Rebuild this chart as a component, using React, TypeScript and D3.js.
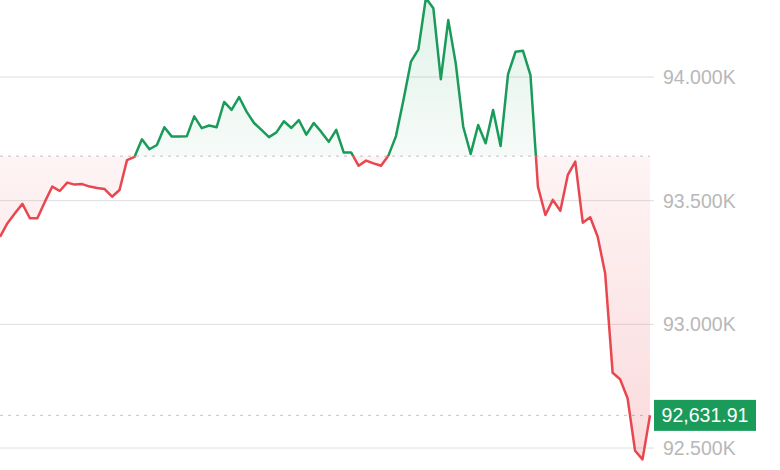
import React from "react";
import * as d3 from "d3";

const prices: number[] = [
  93354, 93409, 93449, 93487, 93429, 93429, 93495, 93557, 93539, 93573,
  93565, 93567, 93557, 93551, 93547, 93516, 93543, 93664, 93677, 93748,
  93708, 93725, 93797, 93759, 93759, 93760, 93841, 93793, 93804, 93797,
  93899, 93867, 93919, 93860, 93814, 93786, 93757, 93776, 93821, 93794,
  93826, 93767, 93814, 93778, 93738, 93786, 93695, 93695, 93641, 93662,
  93651, 93641, 93683, 93761, 93907, 94062, 94112, 94319, 94278, 93991,
  94230, 94055, 93799, 93689, 93806, 93732, 93867, 93721, 94012, 94102,
  94106, 94008, 93557, 93442, 93503, 93459, 93604, 93658, 93411, 93433,
  93354, 93206, 92804, 92778, 92701, 92489, 92454, 92631.91,
];
const baselineValue = 93680;
const currentPrice = 92631.91;
const tickValues: number[] = [94000, 93500, 93000, 92500];
const tickLabels: string[] = ["94.000K", "93.500K", "93.000K", "92.500K"];
const currentLabel = "92,631.91";

const W = 780;
const H = 470;
const PLOT_RIGHT = 650;
const GREEN = "#1a9b5a";
const RED = "#e9474f";

export default function App() {
  const x = d3.scaleLinear().domain([0, prices.length - 1]).range([0, PLOT_RIGHT]);
  const y = d3.scaleLinear().domain([92500, 94000]).range([448, 77]);
  const by = y(baselineValue);

  const line = d3
    .line<number>()
    .x((_, i) => x(i))
    .y((d) => y(d));
  const area = d3
    .area<number>()
    .x((_, i) => x(i))
    .y0(by)
    .y1((d) => y(d));

  const linePath = line(prices) || "";
  const areaPath = area(prices) || "";

  return (
    <svg
      width={W}
      height={H}
      style={{ position: "absolute", left: 0, top: 0, display: "block", background: "#fff" }}
      fontFamily="'Liberation Sans', Arial, sans-serif"
    >
      <defs>
        <clipPath id="above">
          <rect x={-5} y={-50} width={PLOT_RIGHT + 10} height={by + 50} />
        </clipPath>
        <clipPath id="below">
          <rect x={-5} y={by} width={PLOT_RIGHT + 10} height={H - by + 50} />
        </clipPath>
        <linearGradient id="gGreen" gradientUnits="userSpaceOnUse" x1={0} y1={0} x2={0} y2={by}>
          <stop offset="0%" stopColor={GREEN} stopOpacity={0.13} />
          <stop offset="100%" stopColor={GREEN} stopOpacity={0.04} />
        </linearGradient>
        <linearGradient id="gRed" gradientUnits="userSpaceOnUse" x1={0} y1={by} x2={0} y2={460}>
          <stop offset="0%" stopColor={RED} stopOpacity={0.06} />
          <stop offset="100%" stopColor={RED} stopOpacity={0.2} />
        </linearGradient>
      </defs>

      {tickValues.map((v, i) => (
        <g key={v}>
          <line x1={0} x2={654} y1={y(v)} y2={y(v)} stroke="#dedede" strokeWidth={1} />
          <text
            x={663}
            y={y(v)}
            dy="0.36em"
            fontSize={19.5}
            fill="#b8b8b8"
          >
            {tickLabels[i]}
          </text>
        </g>
      ))}

      <line
        x1={0}
        x2={PLOT_RIGHT}
        y1={by}
        y2={by}
        stroke="#c4c4c4"
        strokeWidth={1}
        strokeDasharray="3,5"
      />
      <line
        x1={0}
        x2={PLOT_RIGHT}
        y1={y(currentPrice)}
        y2={y(currentPrice)}
        stroke="#c4c4c4"
        strokeWidth={1}
        strokeDasharray="3,5"
      />

      <path d={areaPath} fill="url(#gGreen)" clipPath="url(#above)" />
      <path d={areaPath} fill="url(#gRed)" clipPath="url(#below)" />
      <path
        d={linePath}
        fill="none"
        stroke={GREEN}
        strokeWidth={2.5}
        strokeLinejoin="round"
        clipPath="url(#above)"
      />
      <path
        d={linePath}
        fill="none"
        stroke={RED}
        strokeWidth={2.5}
        strokeLinejoin="round"
        clipPath="url(#below)"
      />

      <rect x={654} y={y(currentPrice) - 15.5} width={102} height={31} fill="#1a9b5a" />
      <text
        x={705}
        y={y(currentPrice)}
        dy="0.36em"
        textAnchor="middle"
        fontSize={19.5}
        fill="#fff"
      >
        {currentLabel}
      </text>
    </svg>
  );
}
